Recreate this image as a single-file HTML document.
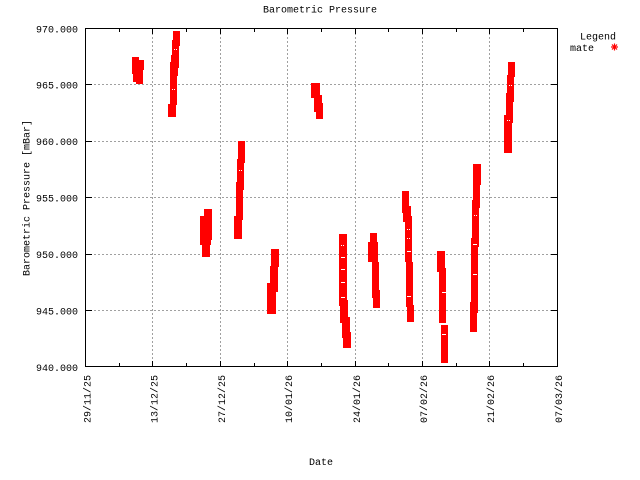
<!DOCTYPE html>
<html><head><meta charset="utf-8"><style>
html,body{margin:0;padding:0;background:#fff;}
svg{display:block;}
text{font-family:"Liberation Mono",monospace;font-size:10px;fill:#000;}
</style></head><body>
<svg width="640" height="480" viewBox="0 0 640 480" xmlns="http://www.w3.org/2000/svg">
<rect x="0" y="0" width="640" height="480" fill="#fff"/>
<!-- grid -->
<g stroke="#a0a0a0" stroke-width="1" stroke-dasharray="2,2" shape-rendering="crispEdges">
<line x1="86" y1="84.5" x2="557" y2="84.5"/>
<line x1="86" y1="141.5" x2="557" y2="141.5"/>
<line x1="86" y1="197.5" x2="557" y2="197.5"/>
<line x1="86" y1="254.5" x2="557" y2="254.5"/>
<line x1="86" y1="310.5" x2="557" y2="310.5"/>
<line x1="152.5" y1="29" x2="152.5" y2="366"/>
<line x1="220.5" y1="29" x2="220.5" y2="366"/>
<line x1="287.5" y1="29" x2="287.5" y2="366"/>
<line x1="355.5" y1="29" x2="355.5" y2="366"/>
<line x1="422.5" y1="29" x2="422.5" y2="366"/>
<line x1="489.5" y1="29" x2="489.5" y2="366"/>
</g>
<!-- data clusters -->
<g fill="#ff0000" shape-rendering="crispEdges">
<!-- c1 -->
<rect x="132" y="57" width="7" height="17"/><rect x="133" y="65" width="10" height="17"/><rect x="139" y="60" width="5" height="10"/><rect x="136" y="76" width="7" height="8"/>
<!-- c2 -->
<rect x="173" y="31" width="7" height="15"/><rect x="172" y="40" width="7" height="28"/><rect x="171" y="55" width="7" height="21"/><rect x="170" y="62" width="7" height="43"/><rect x="168" y="104" width="8" height="13"/>
<!-- c3 -->
<rect x="200" y="216" width="11" height="29"/><rect x="204" y="209" width="8" height="31"/><rect x="202" y="240" width="8" height="17"/>
<!-- c4 -->
<rect x="238" y="141" width="7" height="22"/><rect x="237" y="159" width="7" height="31"/><rect x="236" y="182" width="7" height="38"/><rect x="234" y="216" width="8" height="23"/>
<!-- c5 -->
<rect x="271" y="249" width="8" height="18"/><rect x="270" y="266" width="8" height="26"/><rect x="267" y="283" width="9" height="31"/>
<!-- c6 -->
<rect x="311" y="83" width="9" height="15"/><rect x="314" y="95" width="8" height="17"/><rect x="316" y="103" width="7" height="16"/>
<!-- c7 -->
<rect x="339" y="234" width="8" height="72"/><rect x="340" y="300" width="8" height="23"/><rect x="342" y="317" width="8" height="21"/><rect x="343" y="332" width="8" height="16"/>
<!-- c8 -->
<rect x="370" y="233" width="7" height="29"/><rect x="368" y="242" width="10" height="20"/><rect x="372" y="262" width="7" height="36"/><rect x="373" y="290" width="7" height="18"/>
<!-- c9 -->
<rect x="402" y="191" width="7" height="22"/><rect x="403" y="206" width="8" height="16"/><rect x="405" y="216" width="7" height="46"/><rect x="406" y="262" width="7" height="45"/><rect x="407" y="305" width="7" height="17"/>
<!-- c10 -->
<rect x="437" y="251" width="8" height="21"/><rect x="439" y="268" width="7" height="55"/><rect x="441" y="325" width="7" height="38"/>
<!-- c11 -->
<rect x="473" y="164" width="8" height="21"/><rect x="473" y="180" width="7" height="28"/><rect x="472" y="200" width="7" height="47"/><rect x="471" y="238" width="7" height="75"/><rect x="470" y="302" width="7" height="30"/>
<!-- c12 -->
<rect x="508" y="62" width="7" height="15"/><rect x="507" y="75" width="7" height="27"/><rect x="506" y="93" width="7" height="30"/><rect x="504" y="115" width="8" height="38"/>
</g>
<!-- small white point marks -->
<g fill="#fff" shape-rendering="crispEdges">
<rect x="174" y="49" width="1" height="1"/><rect x="176" y="49" width="1" height="1"/>
<rect x="172" y="89" width="1" height="1"/><rect x="174" y="89" width="1" height="1"/>
<rect x="239" y="170" width="1" height="1"/><rect x="241" y="170" width="1" height="1"/>
<rect x="341" y="245" width="1" height="1"/><rect x="343" y="245" width="1" height="1"/>
<rect x="341" y="257" width="4" height="1"/><rect x="341" y="269" width="4" height="1"/>
<rect x="341" y="282" width="4" height="1"/><rect x="341" y="297" width="4" height="1"/>
<rect x="407" y="229" width="1" height="1"/><rect x="409" y="229" width="1" height="1"/>
<rect x="407" y="238" width="1" height="1"/><rect x="409" y="238" width="1" height="1"/>
<rect x="407" y="251" width="4" height="1"/><rect x="407" y="296" width="4" height="1"/>
<rect x="442" y="292" width="4" height="1"/><rect x="442" y="334" width="4" height="1"/>
<rect x="474" y="215" width="1" height="1"/><rect x="476" y="215" width="1" height="1"/>
<rect x="473" y="244" width="4" height="1"/><rect x="473" y="274" width="4" height="1"/>
<rect x="509" y="85" width="1" height="1"/><rect x="511" y="85" width="1" height="1"/>
<rect x="507" y="120" width="1" height="1"/><rect x="509" y="120" width="1" height="1"/>
</g>
<!-- border -->
<rect x="85.5" y="28.5" width="472" height="338" fill="none" stroke="#000" stroke-width="1" shape-rendering="crispEdges"/>
<!-- ticks -->
<g stroke="#000" stroke-width="1" shape-rendering="crispEdges">
<line x1="86" y1="84.5" x2="92" y2="84.5"/><line x1="551" y1="84.5" x2="557" y2="84.5"/>
<line x1="86" y1="141.5" x2="92" y2="141.5"/><line x1="551" y1="141.5" x2="557" y2="141.5"/>
<line x1="86" y1="197.5" x2="92" y2="197.5"/><line x1="551" y1="197.5" x2="557" y2="197.5"/>
<line x1="86" y1="254.5" x2="92" y2="254.5"/><line x1="551" y1="254.5" x2="557" y2="254.5"/>
<line x1="86" y1="310.5" x2="92" y2="310.5"/><line x1="551" y1="310.5" x2="557" y2="310.5"/>
<line x1="152.5" y1="29" x2="152.5" y2="34"/><line x1="152.5" y1="361" x2="152.5" y2="366"/>
<line x1="220.5" y1="29" x2="220.5" y2="34"/><line x1="220.5" y1="361" x2="220.5" y2="366"/>
<line x1="287.5" y1="29" x2="287.5" y2="34"/><line x1="287.5" y1="361" x2="287.5" y2="366"/>
<line x1="355.5" y1="29" x2="355.5" y2="34"/><line x1="355.5" y1="361" x2="355.5" y2="366"/>
<line x1="422.5" y1="29" x2="422.5" y2="34"/><line x1="422.5" y1="361" x2="422.5" y2="366"/>
<line x1="489.5" y1="29" x2="489.5" y2="34"/><line x1="489.5" y1="361" x2="489.5" y2="366"/>
<line x1="119.5" y1="29" x2="119.5" y2="32"/><line x1="119.5" y1="363" x2="119.5" y2="366"/>
<line x1="186.5" y1="29" x2="186.5" y2="32"/><line x1="186.5" y1="363" x2="186.5" y2="366"/>
<line x1="254.5" y1="29" x2="254.5" y2="32"/><line x1="254.5" y1="363" x2="254.5" y2="366"/>
<line x1="321.5" y1="29" x2="321.5" y2="32"/><line x1="321.5" y1="363" x2="321.5" y2="366"/>
<line x1="388.5" y1="29" x2="388.5" y2="32"/><line x1="388.5" y1="363" x2="388.5" y2="366"/>
<line x1="456.5" y1="29" x2="456.5" y2="32"/><line x1="456.5" y1="363" x2="456.5" y2="366"/>
<line x1="523.5" y1="29" x2="523.5" y2="32"/><line x1="523.5" y1="363" x2="523.5" y2="366"/>
</g>
<!-- y labels -->
<g text-anchor="end">
<text x="78" y="32.5">970.000</text>
<text x="78" y="88.5">965.000</text>
<text x="78" y="145">960.000</text>
<text x="78" y="201.5">955.000</text>
<text x="78" y="258">950.000</text>
<text x="78" y="314.5">945.000</text>
<text x="78" y="371">940.000</text>
</g>
<!-- x labels -->
<g text-anchor="end">
<text transform="translate(90.5,375) rotate(-90)">29/11/25</text>
<text transform="translate(157.5,375) rotate(-90)">13/12/25</text>
<text transform="translate(225,375) rotate(-90)">27/12/25</text>
<text transform="translate(292,375) rotate(-90)">10/01/26</text>
<text transform="translate(360,375) rotate(-90)">24/01/26</text>
<text transform="translate(427,375) rotate(-90)">07/02/26</text>
<text transform="translate(494,375) rotate(-90)">21/02/26</text>
<text transform="translate(562,375) rotate(-90)">07/03/26</text>
</g>
<text x="320" y="12.5" text-anchor="middle">Barometric Pressure</text>
<text x="321" y="465" text-anchor="middle">Date</text>
<text transform="translate(29.5,198) rotate(-90)" text-anchor="middle">Barometric Pressure [mBar]</text>
<text x="616" y="39.5" text-anchor="end">Legend</text>
<text x="570" y="51">mate</text>
<g stroke="#ff0000" stroke-width="1.2">
<line x1="611" y1="47" x2="618" y2="47"/>
<line x1="614.5" y1="43.5" x2="614.5" y2="50.5"/>
<line x1="612" y1="44.5" x2="617" y2="49.5"/>
<line x1="612" y1="49.5" x2="617" y2="44.5"/>
</g>
</svg>
</body></html>
